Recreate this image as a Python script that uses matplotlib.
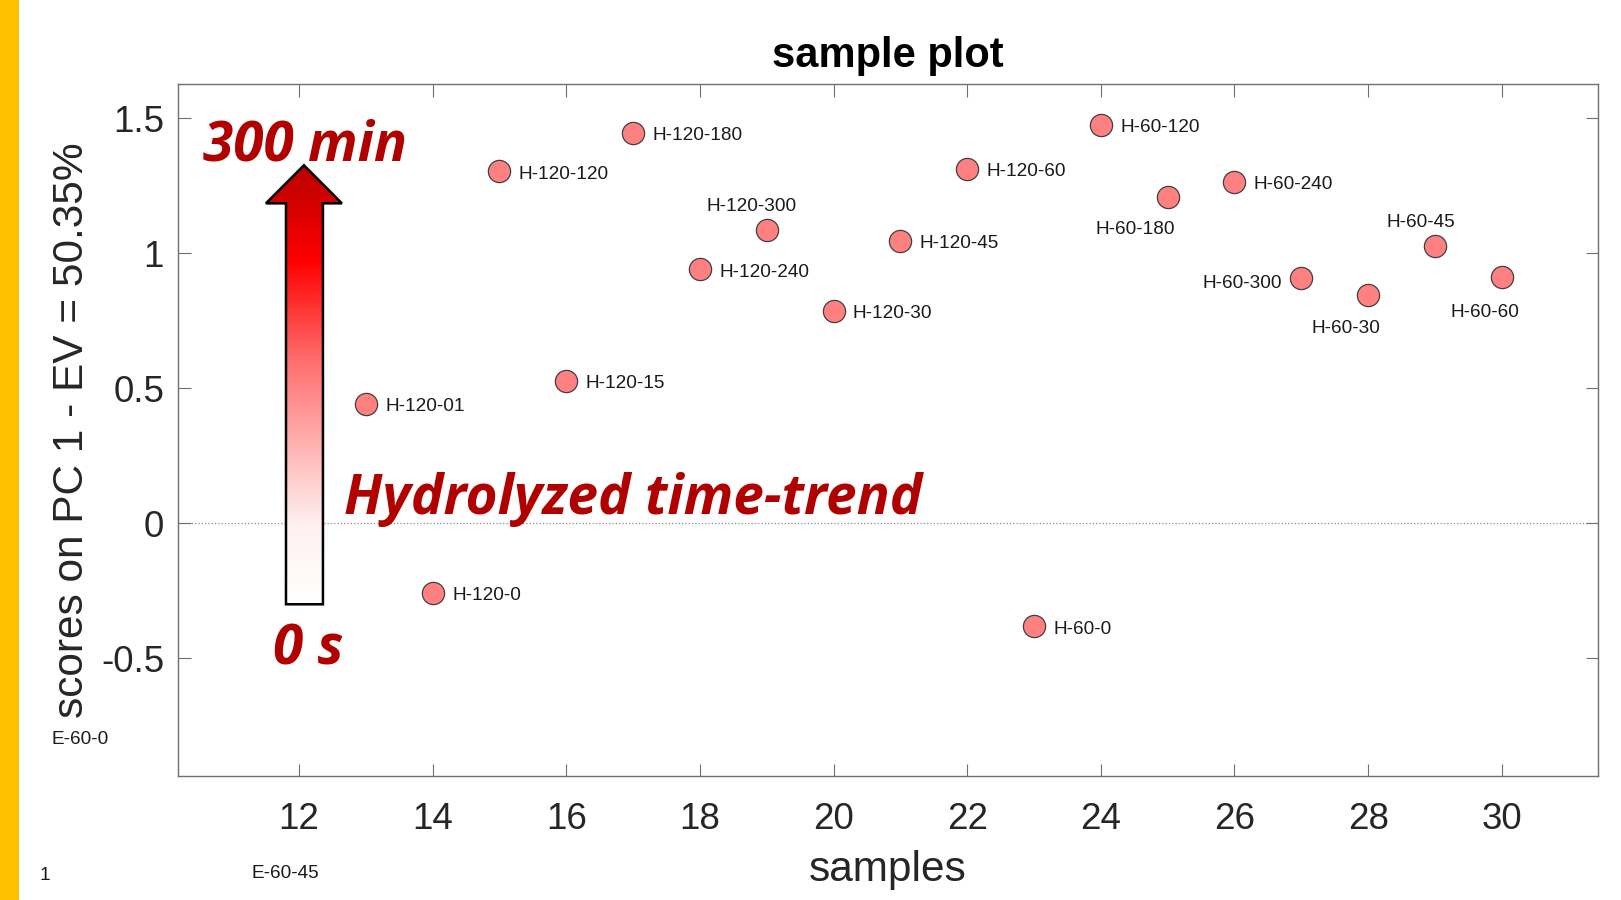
import numpy as np
import matplotlib
matplotlib.use('Agg')
import matplotlib.pyplot as plt
from matplotlib.patches import Polygon, Rectangle
from matplotlib.colors import LinearSegmentedColormap

plt.rcParams['font.family'] = ['Liberation Sans', 'DejaVu Sans']
plt.rcParams['axes.unicode_minus'] = False

# PC 1 scores per sample
samples = [13, 14, 15, 16, 17, 18, 19, 20, 21, 22, 23, 24, 25, 26, 27, 28, 29, 30]
scores = [0.443, -0.257, 1.303, 0.528, 1.447, 0.940, 1.087, 0.787, 1.046, 1.312,
          -0.382, 1.475, 1.207, 1.265, 0.907, 0.846, 1.027, 0.911]
names = ['H-120-01', 'H-120-0', 'H-120-120', 'H-120-15', 'H-120-180', 'H-120-240',
         'H-120-300', 'H-120-30', 'H-120-45', 'H-120-60', 'H-60-0', 'H-60-120',
         'H-60-180', 'H-60-240', 'H-60-300', 'H-60-30', 'H-60-45', 'H-60-60']

x_ticks = [12, 14, 16, 18, 20, 22, 24, 26, 28, 30]
y_ticks = [-0.5, 0, 0.5, 1, 1.5]
y_tick_labels = ['-0.5', '0', '0.5', '1', '1.5']

# label offsets in points (dx, dy, ha); default is to the right of the marker
label_offsets = {
    'H-120-300': (-11, 17, 'center'),
    'H-60-180': (-23, -23, 'center'),
    'H-60-300': (-14, -4, 'right'),
    'H-60-30': (-16, -24, 'center'),
    'H-60-45': (-10, 17, 'center'),
    'H-60-60': (-12, -25, 'center'),
}

W, H = 1621, 900
fig = plt.figure(figsize=(W / 100, H / 100), dpi=100)
ax = fig.add_axes([178 / W, 1 - 776 / H, 1420 / W, 692 / H])

# side accent bar
fig.patches.append(Rectangle((0, 0), 19 / W, 1, transform=fig.transFigure,
                             facecolor='#FFC000', edgecolor='none'))

ax.axhline(0, color='#8c8c8c', ls=':', lw=0.9, zorder=1)
ax.plot(samples, scores, 'o', ms=16, mfc='#FF8080', mec='#404040', mew=0.9, zorder=4)

for x, y, name in zip(samples, scores, names):
    dx, dy, ha = label_offsets.get(name, (14, -2, 'left'))
    ax.annotate(name, (x, y), xytext=(dx, dy), textcoords='offset points',
                ha=ha, va='center', fontsize=13.7, color='#1a1a1a', zorder=5)

# gradient block arrow for the time trend
arrow_pts = [(11.806, -0.30), (12.359, -0.30), (12.359, 1.185), (12.643, 1.185),
             (12.075, 1.326), (11.506, 1.185), (11.806, 1.185)]
grad = LinearSegmentedColormap.from_list(
    'trend', [(0.0, '#FFFFFF'), (0.18, '#FFF0F0'), (0.55, '#FF7070'), (0.78, '#FF0000'), (1.0, '#B80000')])
img = ax.imshow(np.linspace(0, 1, 256).reshape(-1, 1), cmap=grad, origin='lower',
                extent=[11.45, 12.70, -0.30, 1.326], aspect='auto', zorder=2)
arrow = Polygon(arrow_pts, closed=True, facecolor='none', edgecolor='black', lw=1.8, zorder=3)
ax.add_patch(arrow)
img.set_clip_path(arrow)

red_font = dict(family=['Open Sans', 'DejaVu Sans'], weight='bold', style='italic',
                color='#B00000', fontsize=39.5, va='baseline', ha='left', zorder=6)
ax.text(10.564, 1.344, '300 min', **red_font)
ax.text(12.673, 0.033, 'Hydrolyzed time-trend', **red_font)
ax.text(11.611, -0.522, '0 s', **red_font)

ax.set_xlim(10.19, 31.44)
ax.set_ylim(-0.936, 1.627)
ax.set_xticks(x_ticks)
ax.set_yticks(y_ticks)
ax.set_yticklabels(y_tick_labels)
ax.tick_params(direction='in', length=9, width=0.8, color='#707070', labelcolor='#262626',
               labelsize=26.5, top=True, right=True)
ax.tick_params(axis='x', pad=19)
ax.tick_params(axis='y', pad=10)
for s in ax.spines.values():
    s.set_color('#707070')
    s.set_linewidth(1.0)

ax.set_title('sample plot', fontsize=30, fontweight='bold', y=1.040, va='center', pad=0)
ax.set_xlabel('samples', fontsize=30.5, color='#262626', va='center')
ax.xaxis.set_label_coords(0.5, -0.136)
ax.set_ylabel('scores on PC 1 - EV = 50.35%', fontsize=30.5, color='#262626', va='center')
ax.yaxis.set_label_coords(-0.0746, 0.5)

# stray labels of samples that fall outside the view
fig.text(80 / W, 1 - 739 / H, 'E-60-0', fontsize=13.7, ha='center', va='center', color='#1a1a1a')
fig.text(285 / W, 1 - 874 / H, 'E-60-45', fontsize=13.7, ha='center', va='center', color='#1a1a1a')
fig.text(45 / W, 1 - 875 / H, '1', fontsize=13.7, ha='center', va='center', color='#1a1a1a')

fig.savefig('out.png', dpi=100)
